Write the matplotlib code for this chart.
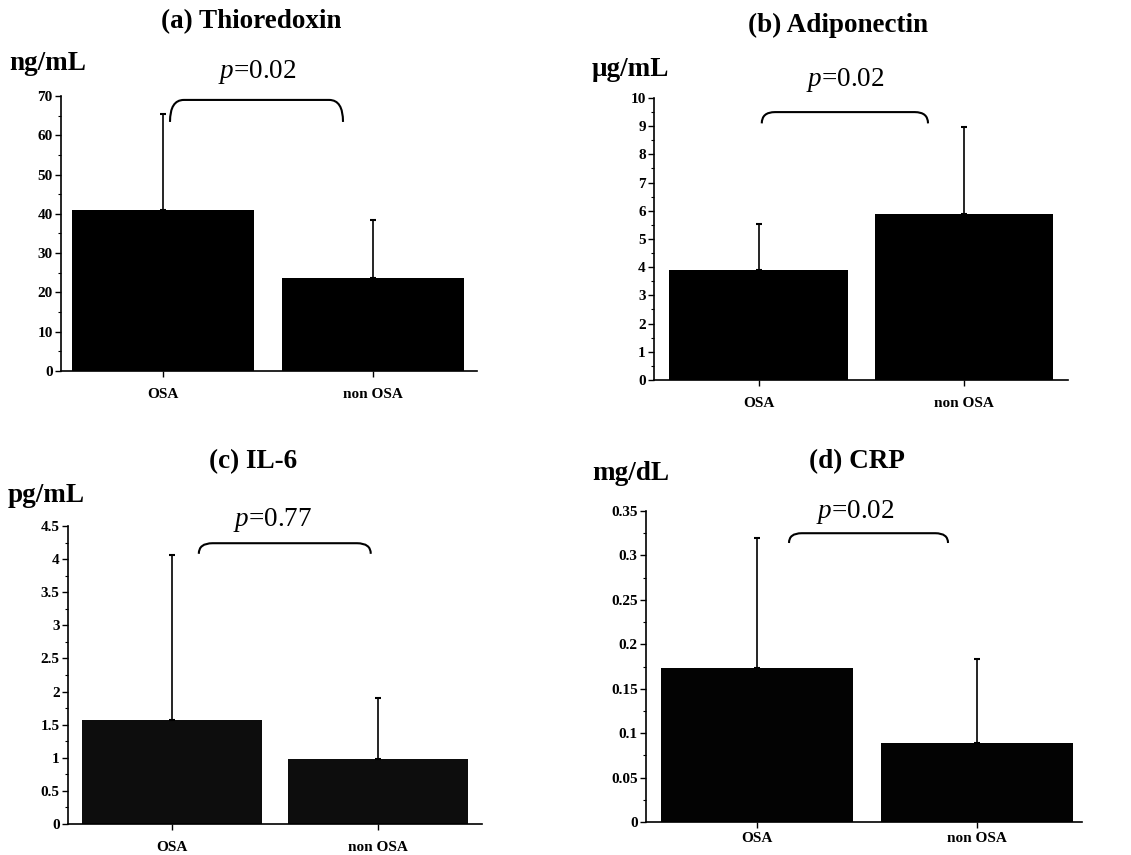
import matplotlib
matplotlib.use("Agg")
import matplotlib.pyplot as plt
from matplotlib.path import Path
from matplotlib.patches import PathPatch
from matplotlib.ticker import MultipleLocator, FuncFormatter

plt.rcParams['font.family'] = ['Liberation Serif', 'DejaVu Serif']
plt.rcParams['mathtext.fontset'] = 'custom'
plt.rcParams['mathtext.rm'] = 'Liberation Serif'
plt.rcParams['mathtext.it'] = 'Liberation Serif:italic'

categories = ["OSA", "non OSA"]

titles = ["(a) Thioredoxin", "(b) Adiponectin", "(c) IL-6", "(d) CRP"]
units = ["ng/mL", "\u03bcg/mL", "pg/mL", "mg/dL"]
p_values = ["0.02", "0.02", "0.77", "0.02"]

thioredoxin_mean = [41.0, 23.7]
thioredoxin_sd = [24.4, 14.7]
adiponectin_mean = [3.9, 5.88]
adiponectin_sd = [1.63, 3.09]
il6_mean = [1.57, 0.98]
il6_sd = [2.49, 0.92]
crp_mean = [0.173, 0.089]
crp_sd = [0.147, 0.094]

means = [thioredoxin_mean, adiponectin_mean, il6_mean, crp_mean]
sds = [thioredoxin_sd, adiponectin_sd, il6_sd, crp_sd]

y_max = [70, 10, 4.5, 0.35]
y_major = [10, 1, 0.5, 0.05]

W, H = 1131, 855
fig = plt.figure(figsize=(W / 100, H / 100), dpi=100)

# axes boxes in pixels: left, right, top, bottom
boxes = [(61, 477, 96, 371), (654, 1068, 98, 380), (68, 482, 526, 824), (646, 1082, 511, 822)]
xlims = [(-0.486, 1.495), (-0.51, 1.507), (-0.505, 1.505), (-0.505, 1.477)]
bar_colors = ["#000000", "#000000", "#0d0d0d", "#030303"]
xlabel_pad = [8, 8, 8, 3]
# bracket: x0, x1 (data), y_top, y_end (data)
brackets = [(0.033, 0.857, 69.0, 63.4), (0.015, 0.825, 9.5, 9.1),
            (0.13, 0.965, 4.24, 4.08), (0.145, 0.868, 0.325, 0.314)]
# text positions in pixels
title_pos = [(251, 22), (838, 25), (253, 462), (857, 462)]
unit_pos = [(9, 63), (592, 70), (8, 495), (592, 473)]
p_pos = [(257, 72), (845, 80), (273, 520), (855, 512)]

fmt = FuncFormatter(lambda v, p: '%g' % round(v, 6))

for i in range(4):
    l, r, t, b = boxes[i]
    ax = fig.add_axes([l / W, 1 - b / H, (r - l) / W, (b - t) / H])
    x = list(range(len(categories)))
    ax.bar(x, means[i], width=0.87, color=bar_colors[i], edgecolor='none', zorder=2)
    ax.errorbar(x, means[i], yerr=[[0, 0], sds[i]], fmt='none', ecolor='black',
                elinewidth=1.2, capsize=2.5, capthick=1.5, zorder=3)
    ax.set_xlim(*xlims[i])
    ax.set_ylim(0, y_max[i])
    ax.yaxis.set_major_locator(MultipleLocator(y_major[i]))
    ax.yaxis.set_minor_locator(MultipleLocator(y_major[i] / 2))
    ax.yaxis.set_major_formatter(fmt)
    ax.set_xticks(x)
    ax.set_xticklabels(categories, fontsize=11, fontweight='bold')
    for lab in ax.get_yticklabels():
        lab.set_fontweight('bold')
    ax.tick_params(axis='y', which='major', direction='out', length=4, width=1, labelsize=11, pad=2)
    ax.tick_params(axis='y', which='minor', direction='out', length=2, width=0.8)
    ax.tick_params(axis='x', which='major', direction='out', length=4, width=1, pad=xlabel_pad[i])
    for s in ['top', 'right']:
        ax.spines[s].set_visible(False)
    for s in ['left', 'bottom']:
        ax.spines[s].set_linewidth(1.2)

    x0, x1, yt, ye = brackets[i]
    dx = (x1 - x0) * 0.08
    verts = [(x0, ye), (x0, yt), (x0 + dx, yt), (x1 - dx, yt), (x1, yt), (x1, ye)]
    codes = [Path.MOVETO, Path.CURVE3, Path.CURVE3, Path.LINETO, Path.CURVE3, Path.CURVE3]
    ax.add_patch(PathPatch(Path(verts, codes), fill=False, lw=1.5, edgecolor='black',
                           clip_on=False, zorder=4))

    tx, ty = title_pos[i]
    fig.text(tx / W, 1 - ty / H, titles[i], ha='center', va='center', fontsize=19.5, fontweight='bold')
    ux, uy = unit_pos[i]
    fig.text(ux / W, 1 - uy / H, units[i], ha='left', va='center', fontsize=19.5, fontweight='bold')
    px, py = p_pos[i]
    fig.text(px / W, 1 - py / H, r"$\it{p}$=" + p_values[i], ha='center', va='center', fontsize=19.5)

fig.savefig("out.png", dpi=100)
